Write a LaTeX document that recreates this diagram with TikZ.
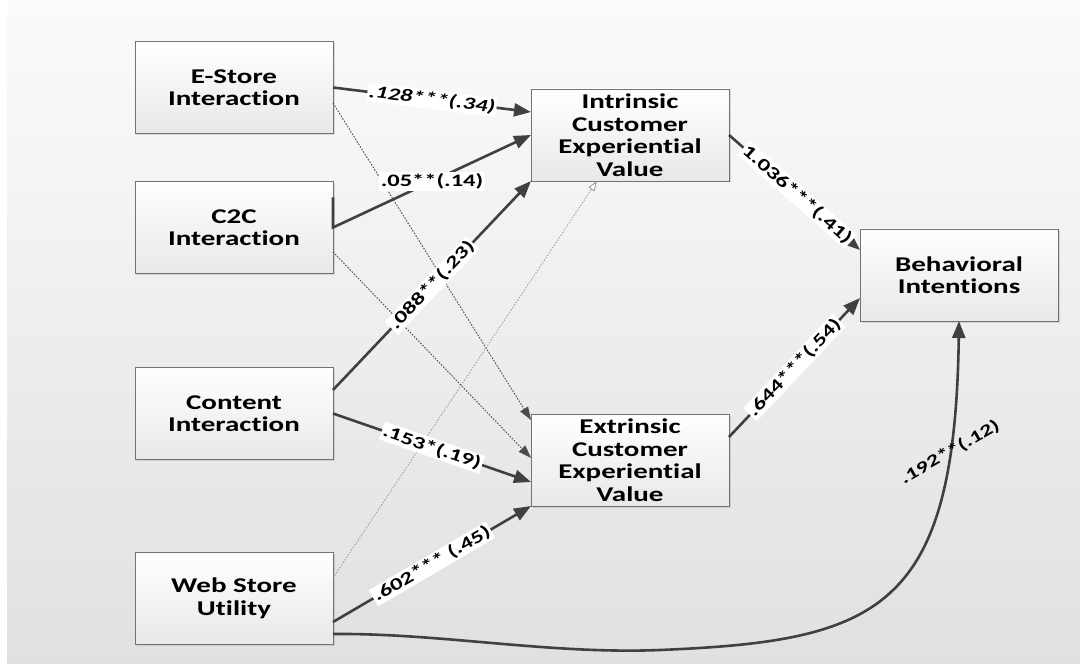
\documentclass[tikz,border=0pt]{standalone}
\usepackage{fontspec}
\setmainfont{Carlito}
\newfontfamily\widefont[FakeStretch=1.38, Ligatures=NoCommon]{Carlito}
\newfontfamily\labelfont[FakeStretch=1.4, Ligatures=NoCommon]{Carlito}
\usetikzlibrary{arrows.meta,shadows}

\begin{document}
\begin{tikzpicture}[x=1pt,y=-1pt,
  construct/.style={draw=black!55, line width=0.9pt, top color=white, bottom color=black!9,
    minimum width=198pt, minimum height=92pt, inner sep=0pt, outer sep=0pt, align=center,
    font=\widefont\bfseries\fontsize{21}{22.5}\selectfont,
    drop shadow={shadow xshift=1.5pt,shadow yshift=-1.5pt,opacity=0.25}},
  effect/.style={draw=black!75, line width=2.6pt, -{Triangle[length=17pt,width=13pt]}},
  weak/.style={draw=black!70, line width=0.9pt, dash pattern=on 1.6pt off 1.4pt,
    -{Triangle[length=13pt,width=9pt]}},
  faint/.style={draw=black!40, line width=0.8pt, dash pattern=on 1.5pt off 1.5pt,
    -{Triangle[length=10pt,width=7pt,fill=white]}},
  coef/.style={fill=white, inner sep=1.5pt, font=\labelfont\bfseries\fontsize{17.5}{17.5}\selectfont},
  coefplain/.style={inner sep=1pt, font=\labelfont\bfseries\fontsize{17}{17}\selectfont}
]
\useasboundingbox (0,0) rectangle (1080,666);
% backdrop
\shade[top color=black!1.5, bottom color=black!12] (7,0) rectangle (1080,663);

% constructs
\node[construct] (estore)  at (234,87.5)  {E-Store\\Interaction};
\node[construct] (c2c)     at (234,227.5) {C2C\\Interaction};
\node[construct] (content) at (234,413.5) {Content\\Interaction};
\node[construct] (web)     at (234,598.5) {Web Store\\Utility};
\node[construct] (intr)    at (630,135)   {Intrinsic\\Customer\\Experiential\\Value};
\node[construct] (extr)    at (630,460)   {Extrinsic\\Customer\\Experiential\\Value};
\node[construct] (behav)   at (959,275)   {Behavioral\\Intentions};

% non-significant paths
\draw[weak] ([yshift=-15.5pt]estore.east) -- ([yshift=40pt]extr.west);
\draw[weak] ([yshift=-24.5pt]c2c.east) -- ([yshift=2pt]extr.west);
\draw[faint] ([yshift=20.5pt]web.east) -- ([xshift=-33pt]intr.south);

% significant paths
\draw[effect] (estore.east) -- node[coef, sloped] (l1) {\itshape .128***(.34)} ([yshift=23pt]intr.west);
\draw[effect, line join=miter] ([yshift=30pt]c2c.east) -- (c2c.east) -- node[coef] (l2) {.05**(.14)} (intr.west);
\draw[effect] ([yshift=23.5pt]content.east) -- node[coef, sloped] (l3) {.088**(.23)} (intr.south west);
\draw[effect] (content.east) -- node[coef, sloped] (l4) {.153*(.19)} ([yshift=-22pt]extr.west);
\draw[effect] ([yshift=-23.5pt]web.east) -- node[coef, sloped] (l5) {.602*** (.45)} (extr.south west);
\draw[effect] (intr.east) -- node[coef, sloped, pos=0.52] (l6) {1.036***(.41)} ([yshift=25pt]behav.west);
\draw[effect] ([yshift=23pt]extr.east) -- node[coef, sloped] (l7) {.644***(.54)} ([yshift=-23pt]behav.west);

\coordinate (dip) at (660,650);
\draw[effect] ([yshift=-35.5pt]web.east) .. controls (440,633) and (550,654.5) .. (dip)
  .. controls (880,641) and (955,610) .. (behav.south);
\node[coefplain, rotate=30] (l8) at (950,452) {.192**(.12)};
\end{tikzpicture}
\end{document}
